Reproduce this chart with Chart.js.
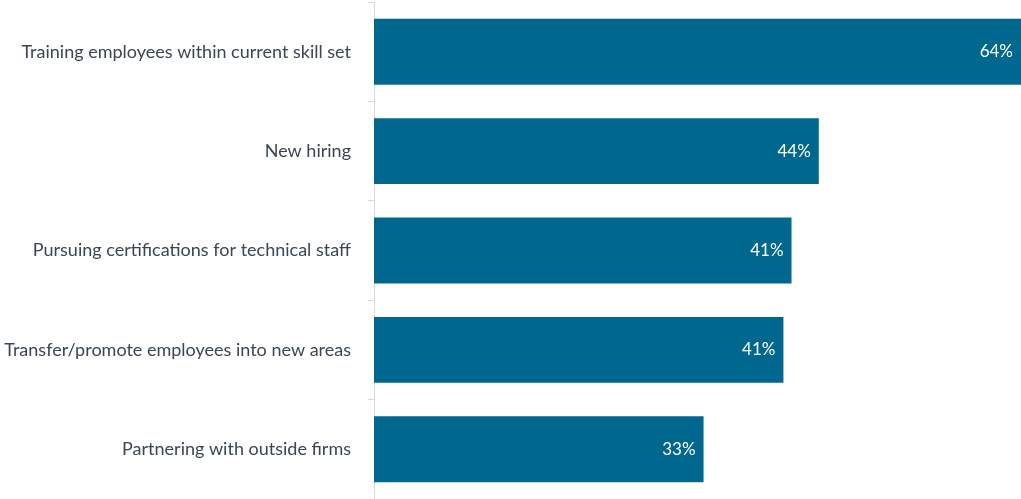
<!DOCTYPE html>
<html>
<head>
<meta charset="utf-8">
<script src="https://cdn.jsdelivr.net/npm/chart.js@4"></script>
<style>
  html, body { margin: 0; padding: 0; background: #fff; overflow: hidden; }
</style>
</head>
<body>
<canvas id="chart" width="1021" height="499"></canvas>
<script>
// Skill-building approaches, share of respondents (%)
const categories = [
  'Training employees within current skill set',
  'New hiring',
  'Pursuing certifications for technical staff',
  'Transfer/promote employees into new areas',
  'Partnering with outside firms'
];
const shares = [64, 44, 41.3, 40.5, 32.6];

const BAR_COLOR = '#00688f';
const TEXT_COLOR = '#3b4654';
const AXIS_COLOR = '#d9d9d9';
const FONT = 'Lato, "Open Sans", sans-serif';

// Writes the rounded percentage inside the end of each bar
const valueLabels = {
  id: 'valueLabels',
  afterDatasetsDraw(chart) {
    const { ctx } = chart;
    const meta = chart.getDatasetMeta(0);
    ctx.save();
    ctx.font = '17px ' + FONT;
    ctx.fillStyle = '#ffffff';
    ctx.textAlign = 'right';
    ctx.textBaseline = 'middle';
    meta.data.forEach((bar, i) => {
      ctx.fillText(Math.round(shares[i]) + '%', bar.x - 8, bar.y);
    });
    ctx.restore();
  }
};

new Chart(document.getElementById('chart'), {
  type: 'bar',
  data: {
    labels: categories,
    datasets: [{
      data: shares,
      backgroundColor: BAR_COLOR,
      borderWidth: 0,
      barPercentage: 0.663,
      categoryPercentage: 1
    }]
  },
  options: {
    indexAxis: 'y',
    responsive: false,
    animation: false,
    layout: { padding: { top: 2, bottom: 0, left: 0, right: 0 } },
    plugins: { legend: { display: false }, tooltip: { enabled: false } },
    scales: {
      x: { display: false, min: 0, max: 64 },
      y: {
        afterFit(scale) {
          scale.width = 374;
          scale.paddingTop = 0;
          scale.paddingBottom = 0;
        },
        border: { color: AXIS_COLOR, width: 1 },
        grid: { drawOnChartArea: false, color: AXIS_COLOR, tickLength: 6, offset: true },
        ticks: {
          color: TEXT_COLOR,
          padding: 17,
          font: { family: FONT, size: 18 }
        }
      }
    }
  },
  plugins: [valueLabels]
});
</script>
</body>
</html>
